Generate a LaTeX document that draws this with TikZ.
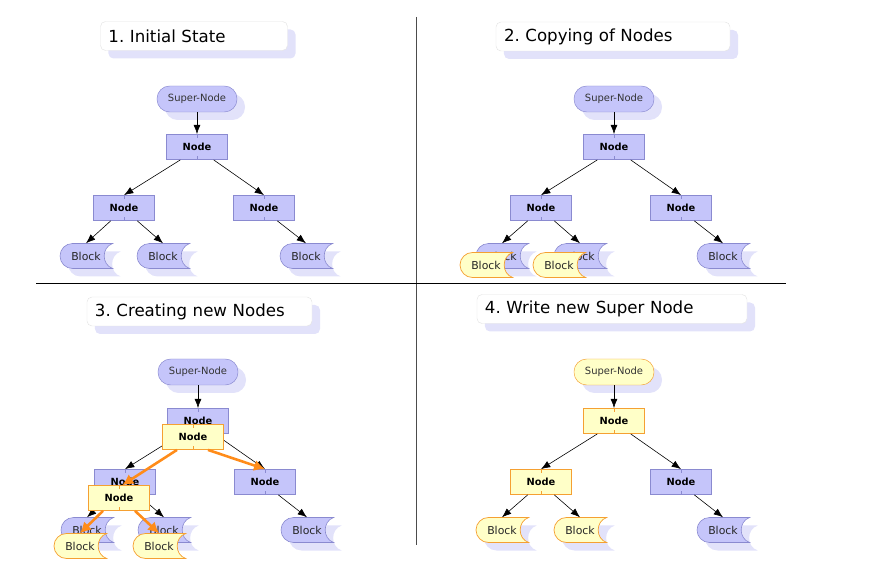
\documentclass[tikz,border=0pt]{standalone}
\usepackage{fontspec}
\setmainfont{DejaVu Sans}
\usepackage{tikz}
\usepackage{xcolor}
\usetikzlibrary{arrows.meta,shadows}
\frenchspacing

\definecolor{nodeblue}{RGB}{197,197,250}
\definecolor{nodeline}{RGB}{138,138,208}
\definecolor{shade}{RGB}{226,226,250}
\definecolor{copyfill}{RGB}{255,255,200}
\definecolor{copyline}{RGB}{245,160,50}
\definecolor{arrowor}{RGB}{255,140,26}
\definecolor{titleline}{RGB}{228,228,228}

\newcommand\blockpath{(-0.405cm,0.375cm) arc[start angle=90,end angle=270,radius=0.375cm]
  -- (0.8cm,-0.375cm) .. controls (0.46cm,-0.26cm) and (0.46cm,0.26cm) .. (0.8cm,0.375cm) -- cycle}
\newcommand\storeblock[4][shade]{%
  \begin{scope}[shift={(#3)}]
    \path[fill=#1,shift={(0.24cm,-0.24cm)}] \blockpath;
    \path[#4] \blockpath;
    \node[blocktext] (#2) at (0,0) {Block};
  \end{scope}}

\begin{document}
\begin{tikzpicture}[x=0.03cm, y=-0.03cm,
    supernode/.style={rounded corners=0.38cm, minimum width=2.4cm, minimum height=0.78cm,
      inner sep=0pt, text=black!80, font=\fontsize{8.5}{10}\selectfont,
      drop shadow={shadow xshift=0.24cm, shadow yshift=-0.24cm, opacity=1, fill=shade}},
    bluesuper/.style={supernode, fill=nodeblue, draw=nodeline},
    yellowsuper/.style={supernode, fill=copyfill, draw=copyline},
    treenode/.style={minimum width=1.83cm, minimum height=0.76cm, inner sep=0pt,
      font=\fontsize{8.4}{10}\selectfont\bfseries,
      path picture={\draw[#1] (path picture bounding box.north) -- ++(0,-0.12cm)
        (path picture bounding box.south) -- ++(0,0.12cm);}},
    bluenode/.style={treenode=nodeline, fill=nodeblue, draw=nodeline},
    yellownode/.style={treenode=copyline, fill=copyfill, draw=copyline},
    blocktext/.style={minimum width=1.56cm, minimum height=0.75cm, inner sep=0pt,
      text=black!85, font=\fontsize{9.3}{10}\selectfont},
    bluefill/.style={fill=nodeblue, draw=nodeline, line width=0.5pt},
    yellowfill/.style={fill=copyfill, draw=copyline, line width=0.6pt},
    link/.style={-{Latex[length=2.8mm,width=2.1mm]}, line width=0.5pt},
    copylink/.style={-{Latex[length=3.3mm,width=3.4mm]}, line width=2.2pt, draw=arrowor},
    titlebox/.style={draw=titleline, fill=white, rounded corners=0.15cm, inner xsep=0.24cm,
      inner ysep=0pt, align=left, minimum height=0.87cm, font=\fontsize{14.2}{17}\selectfont,
      drop shadow={shadow xshift=0.24cm, shadow yshift=-0.24cm, opacity=1, fill=shade}}]
  \useasboundingbox (0,0) rectangle (887,570);

  \draw[black!70, line width=0.6pt] (416,17) -- (416,545);
  \draw[line width=0.6pt] (36,283) -- (786,283);

  \node[titlebox, text width=5.13cm] (t1) at (194,36) {1. Initial State};
  \node[titlebox, text width=6.54cm] (t2) at (613,36.5) {2. Copying of Nodes};
  \node[titlebox, text width=6.27cm] (t3) at (199.5,311.5) {3. Creating new Nodes};
  \node[titlebox, text width=7.62cm] (t4) at (612,309) {4. Write new Super Node};

  % 1. initial state
  \node[bluesuper] (s1) at (197,99) {Super-Node};
  \node[bluenode] (n1) at (197,147) {Node};
  \node[bluenode] (l1) at (124,208) {Node};
  \node[bluenode] (r1) at (264,208) {Node};
  \storeblock{b1a}{86,256}{bluefill}
  \storeblock{b1b}{163,256}{bluefill}
  \storeblock{b1c}{306,256}{bluefill}
  \draw[link] (s1.south) -- (n1.north);
  \draw[link] ([xshift=-0.5cm]n1.south) -- (l1.north);
  \draw[link] ([xshift=0.5cm]n1.south) -- (r1.north);
  \draw[link] ([xshift=-0.4cm]l1.south) -- (b1a.north);
  \draw[link] ([xshift=0.4cm]l1.south) -- (b1b.north);
  \draw[link] ([xshift=0.4cm]r1.south) -- (b1c.north);

  % 2. copying
  \node[bluesuper] (s2) at (614,99) {Super-Node};
  \node[bluenode] (n2) at (614,147) {Node};
  \node[bluenode] (l2) at (541,208) {Node};
  \node[bluenode] (r2) at (681,208) {Node};
  \storeblock{b2a}{502,256}{bluefill}
  \storeblock{b2b}{580,256}{bluefill}
  \storeblock{b2c}{723,256}{bluefill}
  \draw[link] (s2.south) -- (n2.north);
  \draw[link] ([xshift=-0.5cm]n2.south) -- (l2.north);
  \draw[link] ([xshift=0.5cm]n2.south) -- (r2.north);
  \draw[link] ([xshift=-0.4cm]l2.south) -- (b2a.north);
  \draw[link] ([xshift=0.4cm]l2.south) -- (b2b.north);
  \draw[link] ([xshift=0.4cm]r2.south) -- (b2c.north);
  \storeblock[none]{c2a}{486,265}{yellowfill}
  \storeblock[none]{c2b}{559,265}{yellowfill}

  % 3. new nodes
  \node[bluesuper] (s3) at (198,372) {Super-Node};
  \node[bluenode] (n3) at (198,421) {Node};
  \node[bluenode] (l3) at (125,482) {Node};
  \node[bluenode] (r3) at (265,482) {Node};
  \storeblock{b3a}{87,530}{bluefill}
  \storeblock{b3b}{164,530}{bluefill}
  \storeblock{b3c}{307,530}{bluefill}
  \draw[link] (s3.south) -- (n3.north);
  \draw[link] ([xshift=-0.5cm]n3.south) -- (l3.north);
  \draw[link] ([xshift=0.5cm]n3.south) -- (r3.north);
  \draw[link] ([xshift=-0.4cm]l3.south) -- (b3a.north);
  \draw[link] ([xshift=0.4cm]l3.south) -- (b3b.north);
  \draw[link] ([xshift=0.4cm]r3.south) -- (b3c.north);
  \node[yellownode] (y3) at (193,437) {Node};
  \node[yellownode] (yl3) at (119,498) {Node};
  \storeblock[none]{c3a}{80,546}{yellowfill}
  \storeblock[none]{c3b}{159,546}{yellowfill}
  \draw[copylink] ([xshift=-0.48cm]y3.south) -- ([xshift=0.1cm]yl3.north);
  \draw[copylink] ([xshift=0.45cm]y3.south) -- (r3.north);
  \draw[copylink] ([xshift=-0.48cm]yl3.south) -- (c3a.north);
  \draw[copylink] ([xshift=0.48cm]yl3.south) -- (c3b.north);

  % 4. new super node
  \node[yellowsuper] (s4) at (614,372) {Super-Node};
  \node[yellownode] (n4) at (614,421) {Node};
  \node[yellownode] (l4) at (541,482) {Node};
  \node[bluenode] (r4) at (681,482) {Node};
  \storeblock{b4a}{502,530}{yellowfill}
  \storeblock{b4b}{580,530}{yellowfill}
  \storeblock{b4c}{723,530}{bluefill}
  \draw[link] (s4.south) -- (n4.north);
  \draw[link] ([xshift=-0.5cm]n4.south) -- (l4.north);
  \draw[link] ([xshift=0.5cm]n4.south) -- (r4.north);
  \draw[link] ([xshift=-0.4cm]l4.south) -- (b4a.north);
  \draw[link] ([xshift=0.4cm]l4.south) -- (b4b.north);
  \draw[link] ([xshift=0.4cm]r4.south) -- (b4c.north);
\end{tikzpicture}
\end{document}
